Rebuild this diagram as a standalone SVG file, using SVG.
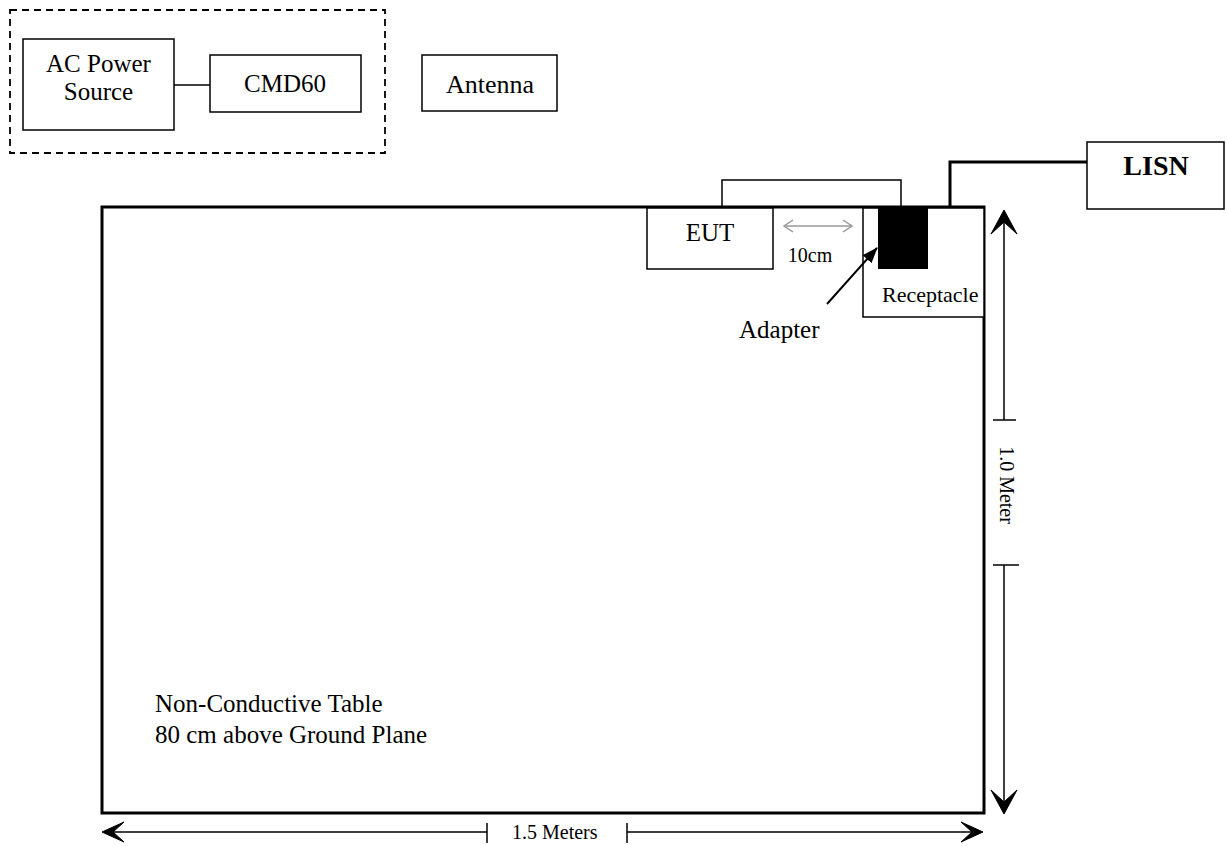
<svg xmlns="http://www.w3.org/2000/svg" width="1227" height="846" viewBox="0 0 1227 846">
<style>
text{font-family:"Liberation Serif","Times New Roman",serif;fill:#000}
.box{fill:#fff;stroke:#000;stroke-width:1.5}
.line{fill:none;stroke:#000;stroke-width:1.5}
.dim{fill:none;stroke:#000;stroke-width:1.5}
.head{fill:#000;stroke:#000;stroke-width:1;stroke-linejoin:miter}
</style>
<defs>
<marker id="adp" markerWidth="16" markerHeight="12" refX="15" refY="6" orient="auto" markerUnits="userSpaceOnUse"><path d="M0,0 L16,6 L0,12 z" fill="#000"/></marker>
</defs>
<rect width="1227" height="846" fill="#fff"/>
<g id="test-setup">
<rect x="10" y="10" width="375" height="143" fill="none" stroke="#000" stroke-width="1.8" stroke-dasharray="7,5"/>
</g>
<g id="table">
<rect x="102" y="207" width="882" height="606" fill="none" stroke="#000" stroke-width="3"/>
<text x="155" y="712" font-size="25">Non-Conductive Table</text>
<text x="155" y="743" font-size="25">80 cm above Ground Plane</text>
</g>
<g id="ac-power-source">
<rect class="box" x="23" y="39" width="151" height="91"/>
<text x="98.5" y="72" font-size="25" text-anchor="middle">AC Power</text>
<text x="98.5" y="100" font-size="25" text-anchor="middle">Source</text>
</g>
<g id="cmd60">
<rect class="box" x="210" y="55" width="151" height="57"/>
<text x="285" y="92" font-size="25" text-anchor="middle">CMD60</text>
</g>
<g id="antenna">
<rect class="box" x="422" y="55" width="135" height="56"/>
<text x="490" y="93" font-size="26" text-anchor="middle">Antenna</text>
</g>
<g id="eut">
<rect class="box" x="647" y="208" width="126" height="61"/>
<text x="710" y="241" font-size="25" text-anchor="middle">EUT</text>
</g>
<g id="receptacle">
<rect class="box" x="863" y="208" width="121" height="109"/>
<rect x="878" y="207" width="50" height="62" fill="#000"/>
<text x="882" y="302" font-size="22">Receptacle</text>
</g>
<g id="adapter-label">
<text x="739" y="338" font-size="25">Adapter</text>
</g>
<g id="lisn">
<rect class="box" x="1087" y="142" width="137" height="67"/>
<text x="1156" y="175" font-size="28" font-weight="bold" text-anchor="middle">LISN</text>
</g>
<g id="connectors">
<line class="line" x1="174" y1="85" x2="210" y2="85"/>
<path class="line" d="M722,207 V180 H901 V207"/>
<path d="M950,207 V162 H1087" fill="none" stroke="#000" stroke-width="3"/>
<line x1="827" y1="304" x2="877" y2="248" stroke="#000" stroke-width="2" marker-end="url(#adp)"/>
</g>
<g id="spacing-10cm">
<line x1="784" y1="226" x2="852" y2="226" stroke="#999" stroke-width="1.5"/>
<path d="M793,220 L784,226 L793,232 M843,220 L852,226 L843,232" fill="none" stroke="#999" stroke-width="1.5"/>
<text x="810" y="262" font-size="20" text-anchor="middle">10cm</text>
</g>
<g id="dim-vertical">
<line class="dim" x1="1004" y1="215" x2="1004" y2="420"/>
<line class="dim" x1="993" y1="420" x2="1016" y2="420"/>
<line class="dim" x1="993" y1="565" x2="1019" y2="565"/>
<line class="dim" x1="1004" y1="565" x2="1004" y2="805"/>
<path class="head" d="M1004,210 L1017,234 L1004,222 L991,234 Z"/>
<path class="head" d="M1004,814 L991,790 L1004,802 L1017,790 Z"/>
<text transform="translate(1000,485) rotate(90)" font-size="20" text-anchor="middle">1.0 Meter</text>
</g>
<g id="dim-horizontal">
<line class="dim" x1="110" y1="832" x2="487" y2="832"/>
<line class="dim" x1="487" y1="823" x2="487" y2="843"/>
<line class="dim" x1="627" y1="823" x2="627" y2="843"/>
<line class="dim" x1="627" y1="832" x2="975" y2="832"/>
<path class="head" d="M102,832 L124,822 L113,832 L124,842 Z"/>
<path class="head" d="M983,832 L961,822 L972,832 L961,842 Z"/>
<text x="512" y="839" font-size="20">1.5 Meters</text>
</g>
</svg>
